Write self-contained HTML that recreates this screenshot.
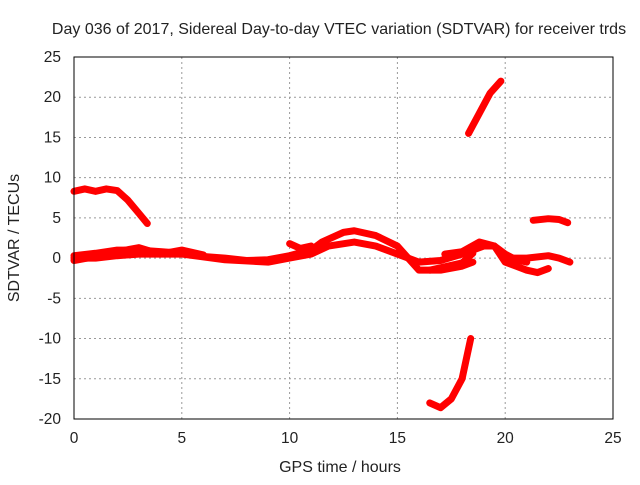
<!DOCTYPE html>
<html><head><meta charset="utf-8"><style>
body{margin:0;background:#fff}
svg text{font-family:"Liberation Sans",sans-serif;fill:#222}
</style></head><body>
<svg width="640" height="480">
<g id="grid"></g>
<g id="series"></g>
<rect x="74" y="57" width="539" height="362" fill="none" stroke="#000" stroke-width="1"/>
<g id="ticks"></g>
<text x="339" y="34" font-size="16" text-anchor="middle">Day 036 of 2017, Sidereal Day-to-day VTEC variation (SDTVAR) for receiver trds</text>
<text x="340" y="472" font-size="16" text-anchor="middle">GPS time / hours</text>
<text x="19" y="238" font-size="16" text-anchor="middle" transform="rotate(-90 19 238)">SDTVAR / TECUs</text>
</svg>
<script>
const xTicks=[0,5,10,15,20,25];
const yTicks=[-20,-15,-10,-5,0,5,10,15,20,25];
const seriesA=[[0,8.3],[0.5,8.6],[1,8.3],[1.5,8.6],[2,8.4],[2.5,7.2],[3,5.6],[3.4,4.3]];
const seriesB1=[[0,0.3],[1,0.6],[2,1],[3,1],[4,0.8],[5,0.6],[6,0.2],[7,0],[8,-0.3],[9,-0.2],[10,0.3],[11,1],[11.5,2],[12.5,3.2],[13,3.4],[14,2.8],[15,1.5],[15.5,0],[16,-1.5],[17,-1.5],[18,-1],[18.5,-0.5]];
const seriesB2=[[0,0],[1,0],[2,0.3],[3,0.5],[5,0.5],[7,-0.2],[9,-0.5],[10,0],[11,0.5],[11.8,1.5],[13,2],[14,1.5],[15,0.5],[16,-0.5],[17,-0.3],[18,0.5],[19,1.5],[19.5,1.5],[20,0.5],[20.5,-0.2],[21,-0.5]];
const seriesB3=[[17.2,0.5],[18,0.8],[18.8,2],[19.5,1.5],[20,-0.5],[20.5,-1],[21,-1.5],[21.5,-1.8],[22,-1.3]];
const seriesB4=[[16.5,-1.5],[17,-1.2],[18,-0.6],[18.5,0.6]];
const seriesB5=[[20,0],[21,0],[22,0.3],[22.5,0],[23,-0.5]];
const seriesB6=[[10,1.8],[10.5,1.2],[11,1.5]];
const seriesB7=[[0,-0.3],[1,0.2],[2,0.8],[3,1.3],[4,0.5],[5,1],[6,0.4]];
const seriesC=[[18.3,15.5],[18.8,18],[19.3,20.5],[19.8,22]];
const seriesD=[[21.3,4.7],[22,4.9],[22.5,4.8],[22.9,4.4]];
const seriesE=[[16.5,-18],[17,-18.6],[17.5,-17.5],[18,-15],[18.4,-10]];
const allSeries=[seriesA,seriesB1,seriesB2,seriesB3,seriesB4,seriesB5,seriesB6,seriesB7,seriesC,seriesD,seriesE];
const names=['series-a','series-b1','series-b2','series-b3','series-b4','series-b5','series-b6','series-b7','series-c','series-d','series-e'];
const X=v=>74+v*539/25, Y=v=>57+(25-v)*362/45;
const NS='http://www.w3.org/2000/svg';
const grid=document.getElementById('grid'),ticks=document.getElementById('ticks'),ser=document.getElementById('series');
function mk(t,a,p){const e=document.createElementNS(NS,t);for(const k in a)e.setAttribute(k,a[k]);p.appendChild(e);return e;}
xTicks.forEach(t=>{
 if(t>0&&t<25){const g=mk('line',{x1:X(t),x2:X(t),y1:57,y2:419,stroke:'#999','stroke-dasharray':'2,3'},grid);
 
 }
 const l=mk('text',{x:X(t),y:443,'font-size':15.5,'text-anchor':'middle'},ticks);l.textContent=t;
 
 
});
yTicks.forEach(t=>{
 if(t>-20&&t<25){const g=mk('line',{x1:74,x2:613,y1:Y(t),y2:Y(t),stroke:'#999','stroke-dasharray':'2,3'},grid);
 
 }
 const l=mk('text',{x:61,y:Y(t)+5,'font-size':15.5,'text-anchor':'end'},ticks);l.textContent=t;
 
 
});
allSeries.forEach((s,i)=>{
 const p=mk('polyline',{points:s.map(d=>X(d[0])+','+Y(d[1])).join(' '),fill:'none',stroke:'#f00','stroke-width':7,'stroke-linejoin':'round','stroke-linecap':'round'},ser);
 
 
});
</script>
</body></html>
